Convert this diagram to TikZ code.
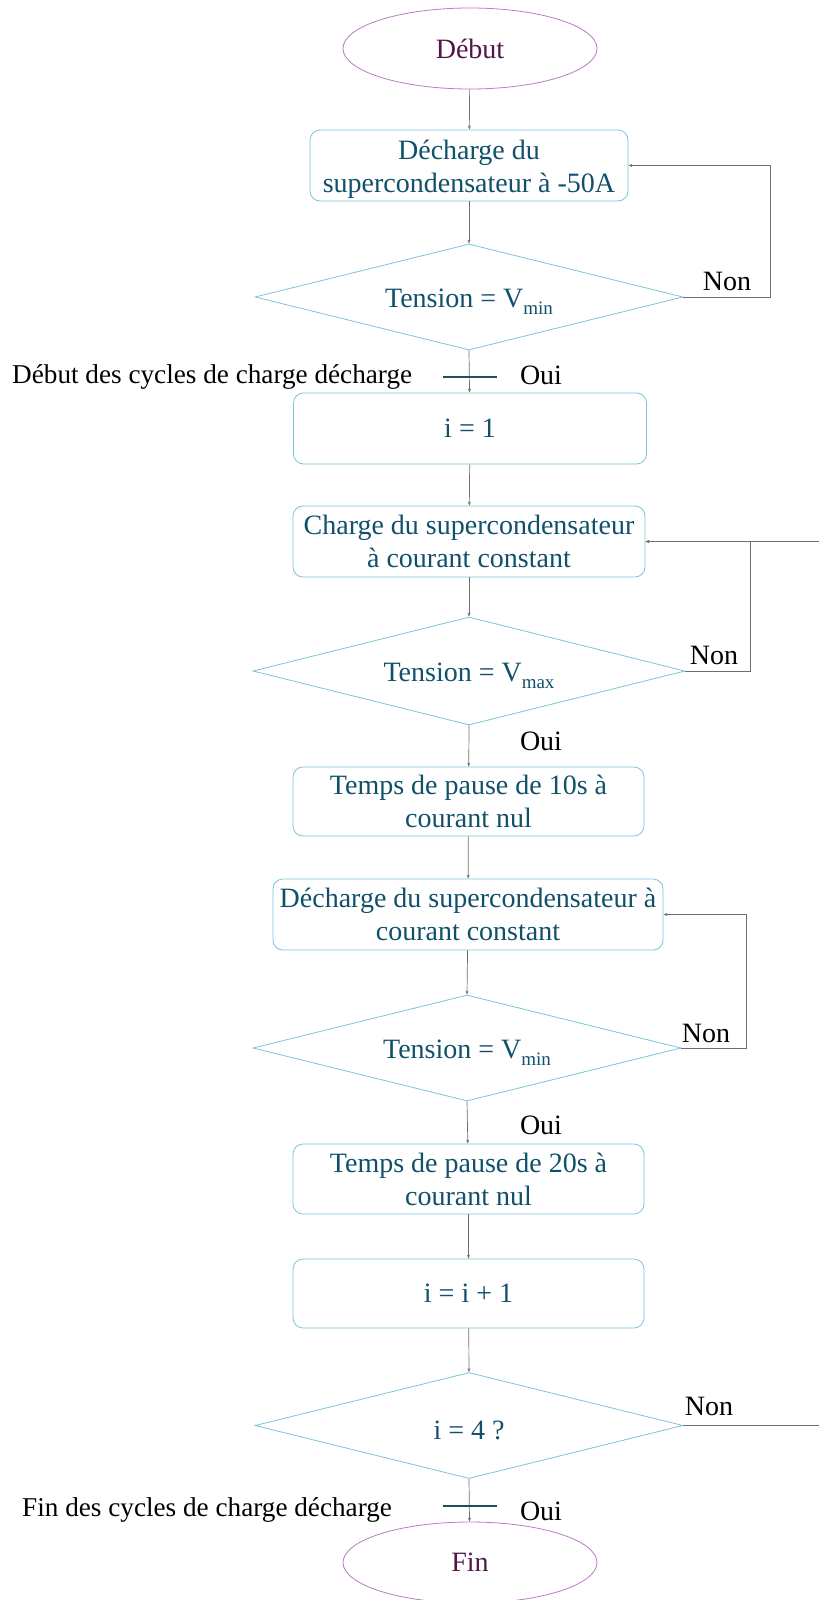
\documentclass[tikz,border=0pt]{standalone}
\usepackage{fontspec}
\setmainfont{Liberation Serif}
\usetikzlibrary{shapes.geometric,arrows.meta}
\definecolor{boxline}{RGB}{125,196,216}
\definecolor{boxtext}{RGB}{16,80,106}
\definecolor{termline}{RGB}{184,124,192}
\definecolor{termtext}{RGB}{82,22,72}
\definecolor{lineg}{RGB}{110,110,110}
\definecolor{barcol}{RGB}{30,78,96}
\newcommand{\subtx}[1]{\raisebox{-7pt}{\fontsize{19}{19}\selectfont #1}}
\newcommand{\lowr}[1]{\raisebox{-5pt}[\height][\depth]{#1}}
\begin{document}
\begin{tikzpicture}[x=1pt,y=-1pt,
  font=\fontsize{28}{33}\selectfont,
  procbox/.style={draw=boxline, line width=0.8pt, rounded corners=10pt, text=boxtext,
    align=center, inner sep=0pt, minimum height=71pt},
  testdia/.style={draw=boxline, line width=0.8pt, diamond, aspect=4, inner sep=0pt,
    text=boxtext, minimum width=428pt, minimum height=106pt},
  term/.style={draw=termline, line width=0.8pt, ellipse, text=termtext,
    minimum width=254pt, minimum height=81pt, inner sep=0pt},
  flow/.style={draw=lineg, line width=0.7pt, -{Stealth[length=4pt,width=3pt]}},
  plain/.style={draw=lineg, line width=0.7pt},
  lbl/.style={text=black, inner sep=0pt},
  longlbl/.style={text=black, inner sep=0pt, anchor=west, font=\fontsize{27.2}{33}\selectfont},
  barline/.style={draw=barcol, line width=1.6pt}]
\useasboundingbox (0,0) rectangle (819,1600);

\node[term] (deb) at (470,48.5) {Début};
\node[procbox, minimum width=318pt] (b1) at (469,165.5)
  {\raisebox{-4pt}[\height][\depth]{\begin{tabular}{@{}c@{}}Décharge du\\supercondensateur à -50A\end{tabular}}};
\node[testdia] (d1) at (469,297) {\lowr{Tension = V\subtx{min}}};
\node[procbox, minimum width=353pt] (b2) at (470,428.5) {i = 1};
\node[procbox, minimum width=352pt] (b3) at (469,541.5) {Charge du supercondensateur\\à courant constant};
\node[testdia, minimum width=432pt, minimum height=108pt] (d2) at (469,671) {\lowr{Tension = V\subtx{max}}};
\node[procbox, minimum width=351pt, minimum height=69pt] (b4) at (468.5,801.5) {Temps de pause de 10s à\\courant nul};
\node[procbox, minimum width=390pt] (b5) at (468,914.5) {Décharge du supercondensateur à\\courant constant};
\node[testdia] (d3) at (467,1048) {\lowr{Tension = V\subtx{min}}};
\node[procbox, minimum width=351pt, minimum height=70pt] (b6) at (468.5,1179) {Temps de pause de 20s à\\courant nul};
\node[procbox, minimum width=351pt, minimum height=69pt] (b7) at (468.5,1293.5) {i = i + 1};
\node[testdia] (d4) at (469,1425.5) {\lowr{i = 4 ?}};
\node[term] (fin) at (470,1562.5) {Fin};

% labels
\node[lbl] (n1) at (727,281) {Non};
\node[lbl] (n2) at (714,655.5) {Non};
\node[lbl] (n3) at (706,1033.5) {Non};
\node[lbl] (n4) at (709,1406.5) {Non};
\node[lbl] (o1) at (541,375.5) {Oui};
\node[lbl] (o2) at (541,741.5) {Oui};
\node[lbl] (o3) at (541,1125.5) {Oui};
\node[lbl] (o4) at (541,1511.5) {Oui};
\node[longlbl] (cyc1) at (12,377) {Début des cycles de charge décharge};
\node[longlbl] (cyc2) at (22,1509.5) {Fin des cycles de charge décharge};

% vertical connectors
\draw[flow] (deb) -- (b1);
\draw[flow] (b1) -- (d1.north);
\draw[flow] (d1.south) -- (b2);
\draw[flow] (b2) -- (b3);
\draw[flow] (b3) -- (d2.north);
\draw[flow] (d2.south) -- (b4);
\draw[flow] (b4) -- (b5);
\draw[flow] (b5) -- (d3.north);
\draw[flow] (d3.south) -- (b6);
\draw[flow] (b6) -- (b7);
\draw[flow] (b7) -- (d4.north);
\draw[flow] (d4.south) -- (fin);

% loops
\coordinate (l1) at (770,297);
\coordinate (l2) at (750,671);
\coordinate (l3) at (746,1048);
\coordinate (r2) at (819,541.5);
\coordinate (r4) at (819,1425.5);
\draw[flow] (d1.east) -- (l1) |- (b1.east);
\draw[flow] (d2.east) -- (l2) |- (b3.east);
\draw[flow] (r2) -- (b3.east);
\draw[flow] (d3.east) -- (l3) |- (b5.east);
\draw[plain] (d4.east) -- (r4);

% bars
\coordinate (bar1a) at (443,377);
\coordinate (bar1b) at (497,377);
\coordinate (bar2a) at (443,1506);
\coordinate (bar2b) at (497,1506);
\draw[barline] (bar1a) -- (bar1b);
\draw[barline] (bar2a) -- (bar2b);
\end{tikzpicture}
\end{document}
